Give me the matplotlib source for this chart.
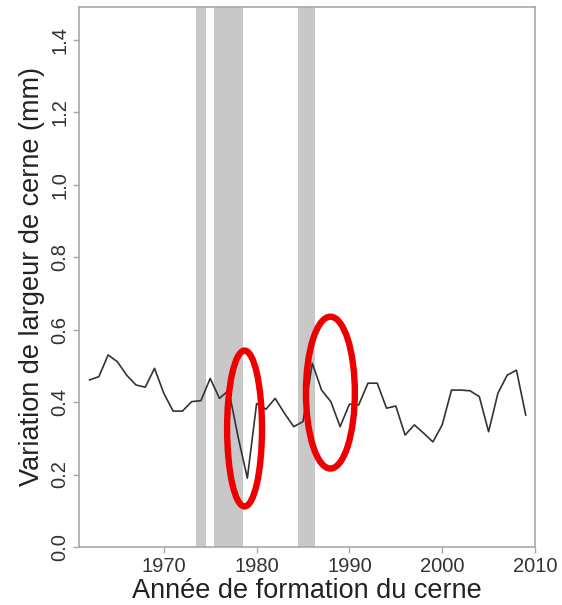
import matplotlib
matplotlib.use("Agg")
import matplotlib.pyplot as plt
from matplotlib.patches import Ellipse

plt.rcParams["font.family"] = ["Liberation Sans", "DejaVu Sans"]

# largeur de cerne, variation annuelle (mm)
years = list(range(1962, 2010))
ring_width = [0.461, 0.470, 0.530, 0.511, 0.474, 0.447, 0.441, 0.493, 0.424, 0.375,
              0.375, 0.401, 0.404, 0.465, 0.410, 0.433, 0.304, 0.190, 0.396, 0.380,
              0.410, 0.369, 0.332, 0.346, 0.507, 0.433, 0.401, 0.332, 0.394, 0.392,
              0.452, 0.452, 0.383, 0.389, 0.309, 0.337, 0.314, 0.290, 0.337, 0.433,
              0.433, 0.431, 0.415, 0.318, 0.424, 0.474, 0.488, 0.364]

# périodes grisées (début, fin)
bands = [(1973.45, 1974.5), (1975.4, 1978.5), (1984.5, 1986.3)]
# ellipses rouges : (année centre, valeur centre, largeur en années, hauteur en mm)
highlights = [(1978.7, 0.327, 3.76, 0.430), (1987.95, 0.426, 5.27, 0.419)]

xticks = [1970, 1980, 1990, 2000, 2010]
yticks = [0.0, 0.2, 0.4, 0.6, 0.8, 1.0, 1.2, 1.4]

GREY = "#a8a8a8"; TXT = "#333333"

fig = plt.figure(figsize=(5.62, 6.05), dpi=100)
ax = fig.add_axes([79/562, 1 - 547/605, (535-79)/562, (547-7)/605])

for a, b in bands:
    ax.axvspan(a, b, color="#c8c8c8", lw=0, zorder=1)
ax.plot(years, ring_width, color="#333333", lw=1.2, zorder=3)
for cx, cy, w, h in highlights:
    ax.add_patch(Ellipse((cx, cy), w, h, fill=False, edgecolor="#ee0000", lw=4.6, zorder=4))

ax.set_xlim(1960.86, 2010)
ax.set_ylim(0, 1.49)
ax.set_xticks(xticks)
ax.set_yticks(yticks)
ax.set_yticklabels([f"{v:.1f}" for v in yticks], rotation=90, va="center")
ax.tick_params(colors=GREY, labelcolor=TXT, labelsize=14.5, length=4, width=1, pad=3)
for s in ax.spines.values():
    s.set_color(GREY); s.set_linewidth(1.2)

ax.set_xlabel("Année de formation du cerne", fontsize=19.5, color="#222222", labelpad=2)
ax.set_ylabel("Variation de largeur de cerne (mm)", fontsize=19.5, color="#222222", labelpad=4)

fig.savefig("out.png", dpi=100)
